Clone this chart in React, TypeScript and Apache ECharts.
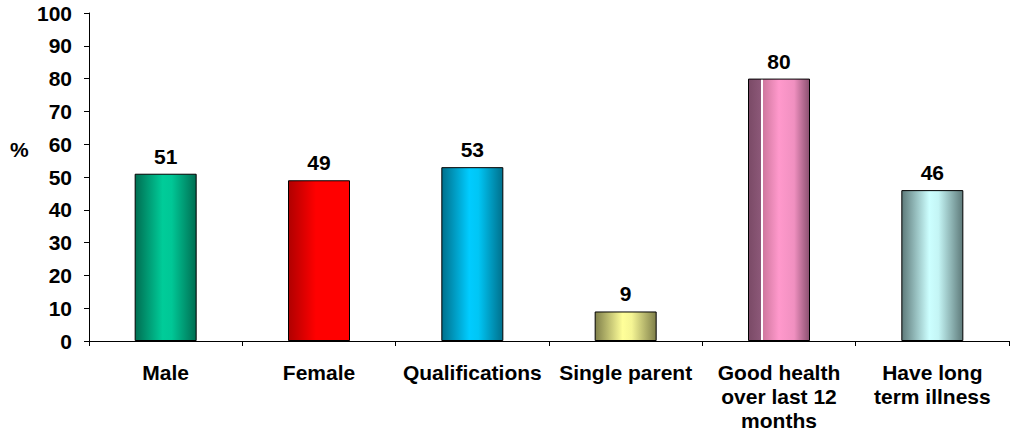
import React, { useEffect, useRef } from "react";
import * as echarts from "echarts";

const categories = [
  "Male",
  "Female",
  "Qualifications",
  "Single parent",
  "Good health\nover last 12\nmonths",
  "Have long\nterm illness",
];
const values = [51, 49, 53, 9, 80, 46];
const yTicks = { min: 0, max: 100, interval: 10 };

const FONT = "Liberation Sans, Arial, sans-serif";
const FS = 21;

const h = (stops: [number, string][]) =>
  new echarts.graphic.LinearGradient(
    0,
    0,
    1,
    0,
    stops.map(([offset, color]) => ({ offset, color }))
  );

const barFills = [
  h([
    [0, "#006e52"],
    [0.45, "#00cc99"],
    [0.6, "#00c796"],
    [1, "#006e52"],
  ]),
  h([
    [0, "#b00000"],
    [0.45, "#ff0000"],
    [1, "#ff0000"],
  ]),
  h([
    [0, "#00708c"],
    [0.45, "#00ccff"],
    [0.6, "#00c6f5"],
    [1, "#00708c"],
  ]),
  h([
    [0, "#7f7f4a"],
    [0.45, "#ffff99"],
    [0.6, "#f5f594"],
    [1, "#7f7f4a"],
  ]),
  h([
    [0, "#7a4a66"],
    [0.2, "#8c5878"],
    [0.2, "#ffffff"],
    [0.235, "#ffffff"],
    [0.24, "#d0789f"],
    [0.5, "#ff99cc"],
    [0.75, "#f090c0"],
    [1, "#8a5070"],
  ]),
  h([
    [0, "#5e7a7a"],
    [0.45, "#ccffff"],
    [0.6, "#c4f5f5"],
    [1, "#5e7a7a"],
  ]),
];

export default function App() {
  const ref = useRef<HTMLDivElement>(null);

  useEffect(() => {
    if (!ref.current) return;
    const chart = echarts.init(ref.current, null, { renderer: "svg" });
    chart.setOption({
      animation: false,
      backgroundColor: "#ffffff",
      grid: { left: 89, right: 3, top: 13, bottom: 98, containLabel: false },
      xAxis: {
        type: "category",
        data: categories,
        boundaryGap: true,
        axisLine: { lineStyle: { color: "#000", width: 1 } },
        axisTick: { show: true, alignWithLabel: false, length: 5, lineStyle: { color: "#000" } },
        axisLabel: {
          interval: 0,
          margin: 19,
          color: "#000",
          fontFamily: FONT,
          fontWeight: "bold",
          fontSize: FS,
          lineHeight: 24,
        },
      },
      yAxis: {
        type: "value",
        min: yTicks.min,
        max: yTicks.max,
        interval: yTicks.interval,
        axisLine: { show: true, lineStyle: { color: "#000", width: 1 } },
        axisTick: { show: true, length: 5, lineStyle: { color: "#000" } },
        splitLine: { show: false },
        axisLabel: {
          margin: 17,
          color: "#000",
          fontFamily: FONT,
          fontWeight: "bold",
          fontSize: FS,
        },
      },
      graphic: [
        {
          type: "text",
          left: 10,
          top: 139,
          style: {
            text: "%",
            fill: "#000",
            font: `bold ${FS}px ${FONT}`,
          },
        },
      ],
      series: [
        {
          type: "bar",
          barWidth: 62,
          data: values.map((v, i) => ({
            value: v,
            itemStyle: {
              color: barFills[i],
              borderColor: "#000",
              borderWidth: 1,
            },
          })),
          label: {
            show: true,
            position: "top",
            distance: 7,
            color: "#000",
            fontFamily: FONT,
            fontWeight: "bold",
            fontSize: FS,
          },
        },
      ],
    });
    return () => chart.dispose();
  }, []);

  return (
    <div
      ref={ref}
      style={{ position: "absolute", left: 0, top: 0, width: 1012, height: 439 }}
    />
  );
}
